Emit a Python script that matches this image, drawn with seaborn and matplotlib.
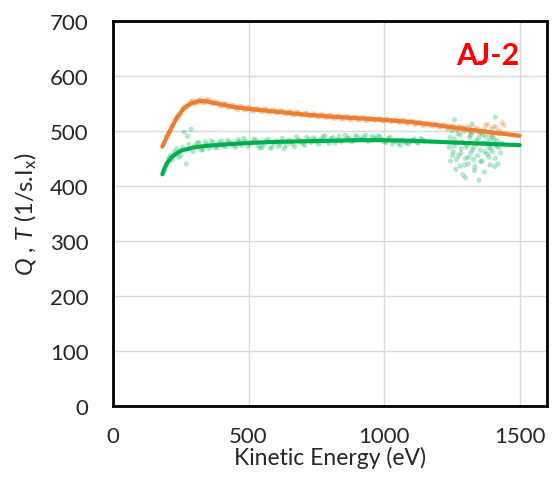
import matplotlib
matplotlib.use("Agg")
import matplotlib.pyplot as plt
import seaborn as sns
import pandas as pd

sns.set_style("white")
plt.rcParams["font.family"] = ["Lato", "DejaVu Sans"]
plt.rcParams["mathtext.fontset"] = "custom"
plt.rcParams["mathtext.rm"] = "Lato"
plt.rcParams["mathtext.it"] = "Lato:italic"

ORANGE = "#ED7D31"
GREEN = "#00B050"

# fitted curves
q_fit_x = [182, 190, 200, 220, 240, 260, 280, 300, 320, 340, 360, 400, 450, 500, 600, 700,
           800, 900, 1000, 1100, 1200, 1300, 1400, 1500]
q_fit_y = [471, 480, 490, 510, 527, 540, 548, 552, 554, 554, 552, 548, 543, 540, 535, 530,
           526, 523, 520, 516, 510, 503, 497, 491]

t_fit_x = [182, 190, 200, 220, 250, 300, 350, 400, 500, 600, 700, 800, 900, 1000, 1100,
           1200, 1300, 1400, 1500]
t_fit_y = [421, 432, 442, 454, 464, 470, 473, 475, 478, 480, 481, 482, 483, 483, 482,
           480, 478, 476, 474]

# measured points (orange, Q)
q_pts_x = [190, 205, 220, 235, 250, 265, 280, 295, 310, 325, 340, 355, 370, 385, 400, 415,
           430, 445, 460, 475, 490, 505, 520, 535, 550, 565, 580, 595, 610, 625, 640, 655,
           670, 685, 700, 715, 730, 745, 760, 775, 790, 805, 820, 835, 850, 865, 880, 895,
           910, 925, 940, 955, 970, 985, 1000, 1015, 1030, 1045, 1060, 1075, 1090, 1105,
           1120, 1135, 1150, 1165, 1180, 1195, 1210, 1225, 1240, 1255, 1270, 1285, 1300,
           1315, 1330, 1345, 1360, 1375, 1390, 1405, 1420, 1435, 1450,
           197, 212, 227, 242, 257, 272, 287, 302, 317, 332, 347, 362, 377, 392, 407, 422,
           437, 452, 467, 482, 497, 512, 527, 542, 557, 572, 587, 602, 617, 632, 647, 662,
           677, 692, 707, 722, 737, 752, 767, 782, 797, 812, 827, 842, 857, 872, 887, 902,
           917, 932, 947, 962, 977, 992, 1007, 1022, 1037, 1052, 1067, 1082, 1097, 1112,
           1127, 1142, 1157, 1172, 1187, 1202, 1217, 1232, 1247, 1262, 1277, 1292, 1307,
           1322, 1337, 1352, 1367, 1382, 1397, 1412, 1427, 1442]
q_pts_y = [478, 497, 508, 526, 531, 545, 546, 555, 551, 558, 552, 556, 549, 551, 545, 549,
           543, 546, 539, 544, 538, 542, 536, 540, 535, 539, 534, 537, 533, 536, 531, 534,
           529, 533, 528, 532, 527, 530, 525, 529, 524, 528, 523, 527, 522, 526, 521, 525,
           520, 524, 519, 523, 519, 522, 518, 521, 517, 520, 515, 519, 514, 517,
           512, 515, 510, 513, 509, 512, 507, 510, 505, 509, 503, 507, 500,
           506, 498, 504, 497, 510, 494, 508, 499, 515, 496,
           491, 500, 519, 525, 541, 543, 553, 549, 556, 551, 557, 550, 553, 546, 550, 543,
           547, 541, 545, 539, 543, 537, 541, 536, 540, 535, 538, 533, 537, 532, 535, 530,
           534, 529, 532, 527, 531, 526, 530, 525, 528, 523, 527, 522, 526, 521, 525, 520,
           524, 519, 523, 519, 522, 518, 521, 517, 520, 516, 519, 514, 518, 512,
           516, 510, 514, 509, 513, 507, 511, 504, 509, 502, 508, 499, 507,
           497, 505, 494, 503, 512, 492, 506, 500, 510]

# measured points (green, T)
t_pts_x = [190, 205, 220, 235, 250, 262, 270, 280, 288, 295, 310, 325, 340, 355, 370, 385,
           400, 415, 430, 445, 460, 475, 490, 505, 520, 535, 550, 565, 580, 595, 610, 625,
           640, 655, 670, 685, 700, 715, 730, 745, 760, 775, 790, 805, 820, 835, 850, 865,
           880, 895, 910, 925, 940, 955, 970, 985, 1000, 1015, 1030, 1045, 1060, 1075, 1090,
           1105, 1120, 1135, 1150,
           197, 212, 227, 242, 257, 275, 302, 317, 332, 347, 362, 377, 392, 407, 422, 437,
           452, 467, 482, 497, 512, 527, 542, 557, 572, 587, 602, 617, 632, 647, 662, 677,
           692, 707, 722, 737, 752, 767, 782, 797, 812, 827, 842, 857, 872, 887, 902, 917,
           932, 947, 962, 977, 992, 1007, 1022, 1037, 1052, 1067, 1082, 1097, 1112, 1127, 1142,
           1240, 1245, 1250, 1255, 1260, 1265, 1270, 1275, 1280, 1285, 1290, 1295, 1300,
           1305, 1310, 1315, 1320, 1325, 1330, 1335, 1340, 1345, 1350, 1355, 1360, 1365,
           1370, 1375, 1380, 1385, 1390, 1395, 1400, 1405, 1410, 1415, 1420, 1425, 1430,
           1435, 1260, 1300, 1350, 1410, 1280, 1330, 1390, 1370, 1320, 1275,
           1243, 1252, 1258, 1267, 1272, 1283, 1288, 1297, 1303, 1312, 1318, 1327, 1333,
           1342, 1348, 1357, 1363, 1372, 1378, 1387, 1393, 1402, 1408, 1417, 1423]
t_pts_y = [428, 450, 447, 468, 455, 498, 440, 475, 503, 462, 478, 465, 480, 468, 479, 470,
           482, 471, 480, 473, 484, 474, 481, 476, 485, 473, 470, 482, 468, 478, 472, 486,
           474, 480, 471, 484, 477, 488, 479, 485, 476, 489, 481, 486, 478, 490, 483, 487,
           480, 491, 484, 488, 481, 490, 485, 489, 480, 486, 476, 482, 474, 480, 476,
           483, 479, 486, 481,
           438, 455, 462, 452, 470, 490, 472, 479, 466, 476, 482, 469, 478, 473, 483, 476,
           470, 481, 486, 472, 479, 483, 468, 475, 485, 471, 481, 476, 468, 483, 476, 489,
           480, 474, 484, 487, 480, 485, 491, 477, 488, 484, 480, 492, 486, 482, 489, 485,
           492, 483, 487, 491, 484, 479, 488, 481, 477, 484, 478, 481, 485, 478, 484,
           470, 445, 500, 462, 485, 430, 478, 455, 492, 468, 420, 505, 450,
           475, 440, 488, 460, 512, 470, 435, 482, 455, 498, 465, 445, 478,
           425, 490, 458, 470, 438, 503, 462, 484, 450, 472, 440, 495, 460,
           478, 520, 415, 410, 525, 436, 448, 485, 500, 492, 505,
           488, 455, 472, 448, 495, 460, 480, 438, 470, 452, 498, 465, 428,
           476, 486, 444, 492, 462, 480, 452, 468, 490, 435, 482, 470]

q_pts = pd.DataFrame({"x": q_pts_x, "y": q_pts_y})
t_pts = pd.DataFrame({"x": t_pts_x, "y": t_pts_y})
q_fit = pd.DataFrame({"x": q_fit_x, "y": q_fit_y})
t_fit = pd.DataFrame({"x": t_fit_x, "y": t_fit_y})

fig = plt.figure(figsize=(5.54, 4.85), dpi=100)
ax = fig.add_axes([0.204, 0.161, 0.783, 0.794])

sns.scatterplot(data=q_pts, x="x", y="y", color=ORANGE, s=14, alpha=0.3,
                edgecolor="none", ax=ax, zorder=2)
sns.scatterplot(data=t_pts, x="x", y="y", color=GREEN, s=14, alpha=0.3,
                edgecolor="none", ax=ax, zorder=2)
sns.lineplot(data=q_fit, x="x", y="y", color=ORANGE, lw=3, sort=False,
             estimator=None, ax=ax, zorder=3)
sns.lineplot(data=t_fit, x="x", y="y", color=GREEN, lw=3, sort=False,
             estimator=None, ax=ax, zorder=3)

ax.set_xlim(0, 1600)
ax.set_ylim(0, 700)
ax.set_xticks([0, 500, 1000, 1500])
ax.set_yticks(range(0, 701, 100))
ax.grid(True, color="#d9d9d9", lw=1)
ax.set_axisbelow(True)
for s in ax.spines.values():
    s.set_color("black")
    s.set_linewidth(2)
ax.tick_params(direction="out", length=5.5, width=1.5, labelsize=16, colors="black")
ax.tick_params(axis="y", labelcolor="#262626", pad=12)
ax.tick_params(axis="x", labelcolor="#262626", pad=9)
ax.set_xlabel("Kinetic Energy (eV)", fontsize=16.5, color="#262626", labelpad=0)
ax.set_ylabel(r"$Q$ , $T$ (1/s.I$_{\mathrm{x}}$)", fontsize=17, color="#262626",
              labelpad=8)

ax.text(1500, 638, "AJ-2", color="red", fontsize=22, fontweight="bold",
        ha="right", va="center")

fig.savefig("out.png", dpi=100)
